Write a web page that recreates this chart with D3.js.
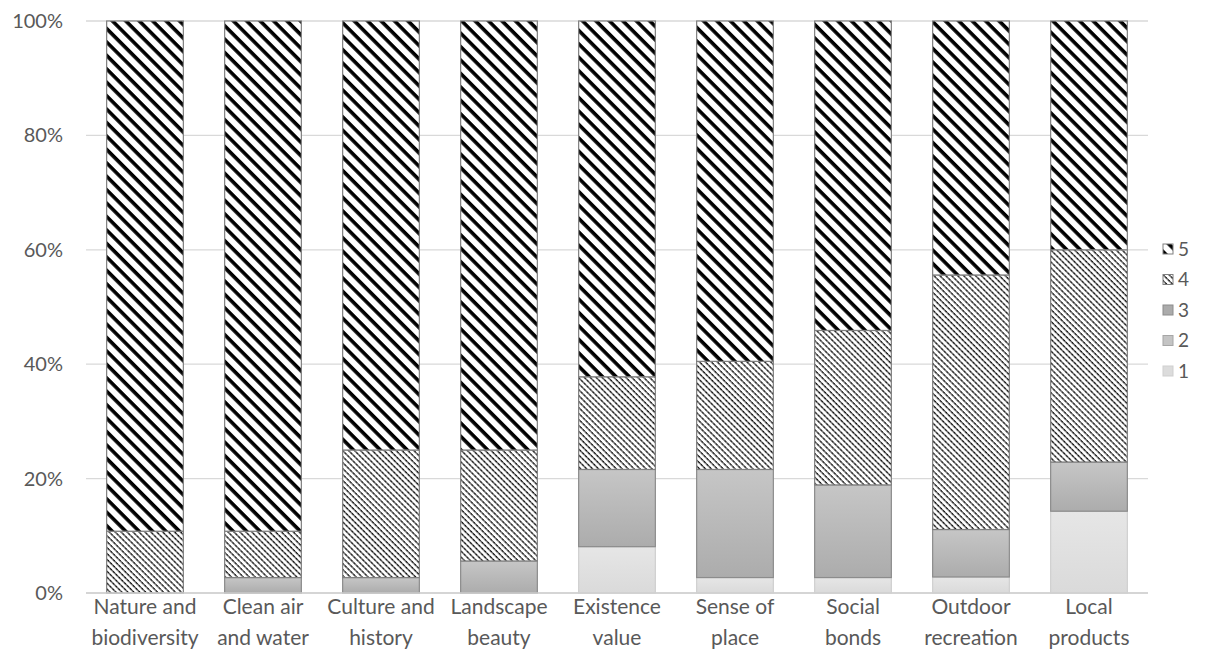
<!DOCTYPE html>
<html>
<head>
<meta charset="utf-8">
<script src="https://cdn.jsdelivr.net/npm/d3@7"></script>
<style>
  body { margin: 0; background: #fff; }
  text { font-family: Lato, "Open Sans", sans-serif; fill: #595959; }
</style>
</head>
<body>
<script>
// categories (two label lines each) and the share of answers per score (%)
var categories = ['Nature and biodiversity', 'Clean air and water', 'Culture and history',
  'Landscape beauty', 'Existence value', 'Sense of place', 'Social bonds',
  'Outdoor recreation', 'Local products'];
var labelLines = [['Nature and', 'biodiversity'], ['Clean air', 'and water'], ['Culture and', 'history'],
  ['Landscape', 'beauty'], ['Existence', 'value'], ['Sense of', 'place'], ['Social', 'bonds'],
  ['Outdoor', 'recreation'], ['Local', 'products']];
var keys = ['1', '2', '3', '4', '5'];
var score1 = [0, 0, 0, 0, 8.1, 2.7, 2.7, 2.8, 14.3];
var score2 = [0, 0, 0, 0, 0, 0, 0, 0, 0];
var score3 = [0, 2.7, 2.7, 5.6, 13.5, 18.9, 16.2, 8.3, 8.6];
var score4 = [10.8, 8.1, 22.3, 19.4, 16.2, 18.9, 27.0, 44.5, 37.1];
var score5 = [89.2, 89.2, 75.0, 75.0, 62.2, 59.5, 54.1, 44.4, 40.0];
var yTicks = [0, 20, 40, 60, 80, 100];

var rows = categories.map(function(c, i){
  return { cat: c, '1': score1[i], '2': score2[i], '3': score3[i], '4': score4[i], '5': score5[i] };
});

var w = 1225, h = 663;
var mLeft = 86, mRight = 1148, mTop = 21, mBottom = 593;

var svg = d3.select('body').append('svg')
  .attr('width', w)
  .attr('height', h);

var defs = svg.append('defs');

// wide stripes for score 5
var p5 = defs.append('pattern')
  .attr('id', 'p5')
  .attr('patternUnits', 'userSpaceOnUse')
  .attr('width', 10).attr('height', 9.5)
  .attr('patternTransform', 'rotate(45)');
p5.append('rect').attr('width', 10).attr('height', 9.5).attr('fill', '#fff');
p5.append('rect').attr('width', 10).attr('height', 3.6).attr('fill', '#000');

// fine stripes for score 4
var p4 = defs.append('pattern')
  .attr('id', 'p4')
  .attr('patternUnits', 'userSpaceOnUse')
  .attr('width', 4).attr('height', 4.2)
  .attr('patternTransform', 'rotate(45)');
p4.append('rect').attr('width', 4).attr('height', 4.2).attr('fill', '#fff');
p4.append('rect').attr('width', 2.6).attr('height', 1.4).attr('fill', '#111');
p4.append('rect').attr('x', 2.6).attr('width', 1.4).attr('height', 1.4).attr('fill', '#555');

var g3 = defs.append('linearGradient').attr('id', 'g3')
  .attr('x1', 0).attr('y1', 0).attr('x2', 0).attr('y2', 1);
g3.append('stop').attr('offset', '0%').attr('stop-color', '#c6c6c6');
g3.append('stop').attr('offset', '100%').attr('stop-color', '#acacac');

var g1 = defs.append('linearGradient').attr('id', 'g1')
  .attr('x1', 0).attr('y1', 0).attr('x2', 0).attr('y2', 1);
g1.append('stop').attr('offset', '0%').attr('stop-color', '#e6e6e6');
g1.append('stop').attr('offset', '100%').attr('stop-color', '#dadada');

var fills = { '1': 'url(#g1)', '2': '#bfbfbf', '3': 'url(#g3)', '4': 'url(#p4)', '5': 'url(#p5)' };
var strokes = { '1': '#cfcfcf', '2': '#a6a6a6', '3': '#8c8c8c', '4': '#7f7f7f', '5': '#7f7f7f' };
var legendFills = { '1': '#dcdcdc', '2': '#c4c4c4', '3': '#ababab', '4': 'url(#p4)', '5': 'url(#p5)' };

var x = d3.scaleBand()
  .domain(categories)
  .range([mLeft, mRight])
  .paddingInner(0.35)
  .paddingOuter(0.175);

var y = d3.scaleLinear()
  .domain([0, 100])
  .range([mBottom, mTop]);

// gridlines
svg.append('g')
  .selectAll('line')
  .data(yTicks)
  .enter()
  .append('line')
  .attr('x1', mLeft)
  .attr('x2', mRight)
  .attr('y1', function(d){ return y(d); })
  .attr('y2', function(d){ return y(d); })
  .attr('stroke', '#d9d9d9')
  .attr('stroke-width', 1.3);

var yAxis = d3.axisLeft(y)
  .tickValues(yTicks)
  .tickFormat(function(d){ return d + '%'; })
  .tickSize(0)
  .tickPadding(23);

svg.append('g')
  .attr('transform', 'translate(' + mLeft + ',0)')
  .call(yAxis)
  .call(function(g){
    g.select('.domain').remove();
    g.selectAll('text')
      .attr('font-family', null)
      .attr('font-size', null)
      .style('font-size', '20px')
      .attr('fill', '#595959');
  });

var stacked = d3.stack().keys(keys)(rows);

svg.append('g')
  .selectAll('g')
  .data(stacked)
  .enter()
  .append('g')
  .each(function(series){
    d3.select(this).selectAll('rect')
      .data(series.filter(function(d){ return d[1] - d[0] > 0; }))
      .enter()
      .append('rect')
      .attr('x', function(d){ return x(d.data.cat); })
      .attr('width', x.bandwidth())
      .attr('y', function(d){ return y(d[1]); })
      .attr('height', function(d){ return y(d[0]) - y(d[1]); })
      .attr('fill', fills[series.key])
      .attr('stroke', strokes[series.key])
      .attr('stroke-width', 1.2);
  });

// baseline
svg.append('line')
  .attr('x1', mLeft).attr('x2', mRight)
  .attr('y1', y(0)).attr('y2', y(0))
  .attr('stroke', '#d0d0d0')
  .attr('stroke-width', 1.5);

// category labels
var xl = svg.append('g')
  .selectAll('text')
  .data(categories)
  .enter()
  .append('text')
  .attr('x', function(d){ return x(d) + x.bandwidth() / 2; })
  .attr('y', 614)
  .attr('text-anchor', 'middle')
  .style('font-size', '21px');

xl.selectAll('tspan')
  .data(function(d, i){ return labelLines[i]; })
  .enter()
  .append('tspan')
  .attr('x', function(){ var c = d3.select(this.parentNode).datum(); return x(c) + x.bandwidth() / 2; })
  .attr('dy', function(d, i){ return i === 0 ? 0 : 31; })
  .text(function(d){ return d; });

// legend
var legendKeys = keys.slice().reverse();
var lg = svg.append('g')
  .selectAll('g')
  .data(legendKeys)
  .enter()
  .append('g')
  .attr('transform', function(d, i){ return 'translate(1163,' + (249 + i * 30.5) + ')'; });

lg.append('rect')
  .attr('x', 0).attr('y', -5)
  .attr('width', 10).attr('height', 10)
  .attr('fill', function(d){ return legendFills[d]; })
  .attr('stroke', function(d){ return strokes[d]; });

lg.append('text')
  .attr('x', 15)
  .attr('y', 0)
  .attr('dy', '0.35em')
  .style('font-size', '19px')
  .text(function(d){ return d; });
</script>
</body>
</html>
